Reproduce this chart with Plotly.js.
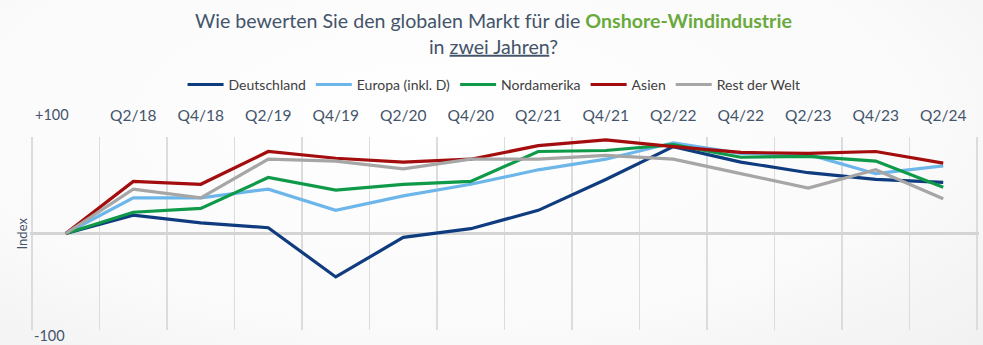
<!DOCTYPE html>
<html>
<head>
<meta charset="utf-8">
<script src="https://cdn.plot.ly/plotly-3.0.1.min.js"></script>
<style>
html,body{margin:0;padding:0;}
body{width:983px;height:345px;overflow:hidden;background:radial-gradient(ellipse 90% 110% at 45% 35%, #ffffff 0%, #fafafa 55%, #ececec 100%);}
#chart{width:983px;height:345px;}
</style>
</head>
<body>
<div id="chart"></div>
<script>
// Half-year periods (first one is the base period, unlabeled)
const periods = [0,1,2,3,4,5,6,7,8,9,10,11,12,13];
const tickLabels = ["", "Q2/18","Q4/18","Q2/19","Q4/19","Q2/20","Q4/20","Q2/21","Q4/21","Q2/22","Q4/22","Q2/23","Q4/23","Q2/24"];

const deutschland = [0, 19, 11, 6, -45, -4, 5, 24, 56, 90, 74, 63, 56, 53];
const europa      = [0, 37, 37, 46, 24, 39, 51, 66, 77, 94, 83, 82, 62, 70];
const nordamerika = [0, 22, 26, 58, 45, 51, 54, 85, 86, 92, 79, 80, 75, 48];
const asien       = [0, 54, 51, 85, 78, 74, 77, 91, 97, 90, 84, 83, 85, 73];
const restWelt    = [0, 46, 37, 77, 75, 67, 77, 77, 81, 77, 62, 47, 66, 36];

const seriesNames  = ["Deutschland","Europa (inkl. D)","Nordamerika","Asien","Rest der Welt"];
const seriesData   = [deutschland, europa, nordamerika, asien, restWelt];
const seriesColors = ["#0f3b7f","#6db6ea","#0e9a48","#a30d0d","#a6a6a6"];

const traces = seriesData.map((d,i)=>({
  x: periods, y: d, type:"scatter", mode:"lines", name: seriesNames[i],
  line:{color: seriesColors[i], width:3.2}, hoverinfo:"skip"
}));

// gridline boundaries between periods
const bounds = [];
for (let i = 0; i <= periods.length; i++) bounds.push(periods[0] - 0.5 + i);

const layout = {
  width:983, height:345,
  paper_bgcolor:"rgba(0,0,0,0)", plot_bgcolor:"rgba(0,0,0,0)",
  margin:{l:30, r:4, t:137, b:15},
  font:{family:"Lato, 'Open Sans', sans-serif", color:"#44546a"},
  title:{
    text:"Wie bewerten Sie den globalen Markt für die <span style='color:#6aaa3c'><b>Onshore-Windindustrie</b></span><br>in <u>zwei Jahren</u>?",
    font:{family:"Lato, sans-serif", size:19.6, color:"#44546a"},
    x:0.502, xanchor:"center", xref:"container",
    y:0.918, yanchor:"top", yref:"container"
  },
  showlegend:true,
  legend:{orientation:"h", x:0.489, xanchor:"center", y:1.27, yanchor:"middle",
          font:{family:"Lato, sans-serif", size:14, color:"#404040"},
          bgcolor:"rgba(0,0,0,0)", itemwidth:36, traceorder:"normal"},
  xaxis:{
    range:[-0.53, 13.53], side:"top", showgrid:false, zeroline:false, showline:false,
    tickmode:"array", tickvals: periods.slice(1), ticktext: tickLabels.slice(1),
    ticks:"outside", ticklen:9, tickcolor:"rgba(0,0,0,0)",
    tickfont:{family:"Lato, sans-serif", size:15.5, color:"#44546a"}
  },
  xaxis2:{
    overlaying:"x", matches:"x", range:[-0.53, 13.53], side:"bottom",
    tickmode:"array", tickvals: bounds, showticklabels:false, ticks:"",
    showgrid:true, gridcolor:"#dcdcdc", gridwidth:1.5, zeroline:false, showline:false, layer:"below traces"
  },
  yaxis:{
    range:[-100, 100], showgrid:false, showticklabels:false, ticks:"",
    zeroline:true, zerolinecolor:"#d4d4d4", zerolinewidth:3.5, showline:false, fixedrange:true
  },
  annotations:[
    {text:"+100", xref:"paper", yref:"paper", x:0.023, y:1.114, xanchor:"center", yanchor:"middle", showarrow:false, font:{family:"Lato, sans-serif", size:14.5, color:"#44546a"}},
    {text:"-100", xref:"paper", yref:"paper", x:0.021, y:-0.026, xanchor:"center", yanchor:"middle", showarrow:false, font:{family:"Lato, sans-serif", size:14.5, color:"#44546a"}},
    {text:"Index", xref:"paper", yref:"paper", x:-0.0085, y:0.5, xanchor:"center", yanchor:"middle", textangle:-90, showarrow:false, font:{family:"Lato, sans-serif", size:13, color:"#44546a"}}
  ]
};

// dummy trace to activate xaxis2 for the boundary gridlines
traces.unshift({x:[periods[0]], y:[0], xaxis:"x2", yaxis:"y", type:"scatter", mode:"markers", marker:{opacity:0}, showlegend:false, hoverinfo:"skip"});

Plotly.newPlot("chart", traces, layout, {staticPlot:true, displayModeBar:false});
</script>
</body>
</html>
